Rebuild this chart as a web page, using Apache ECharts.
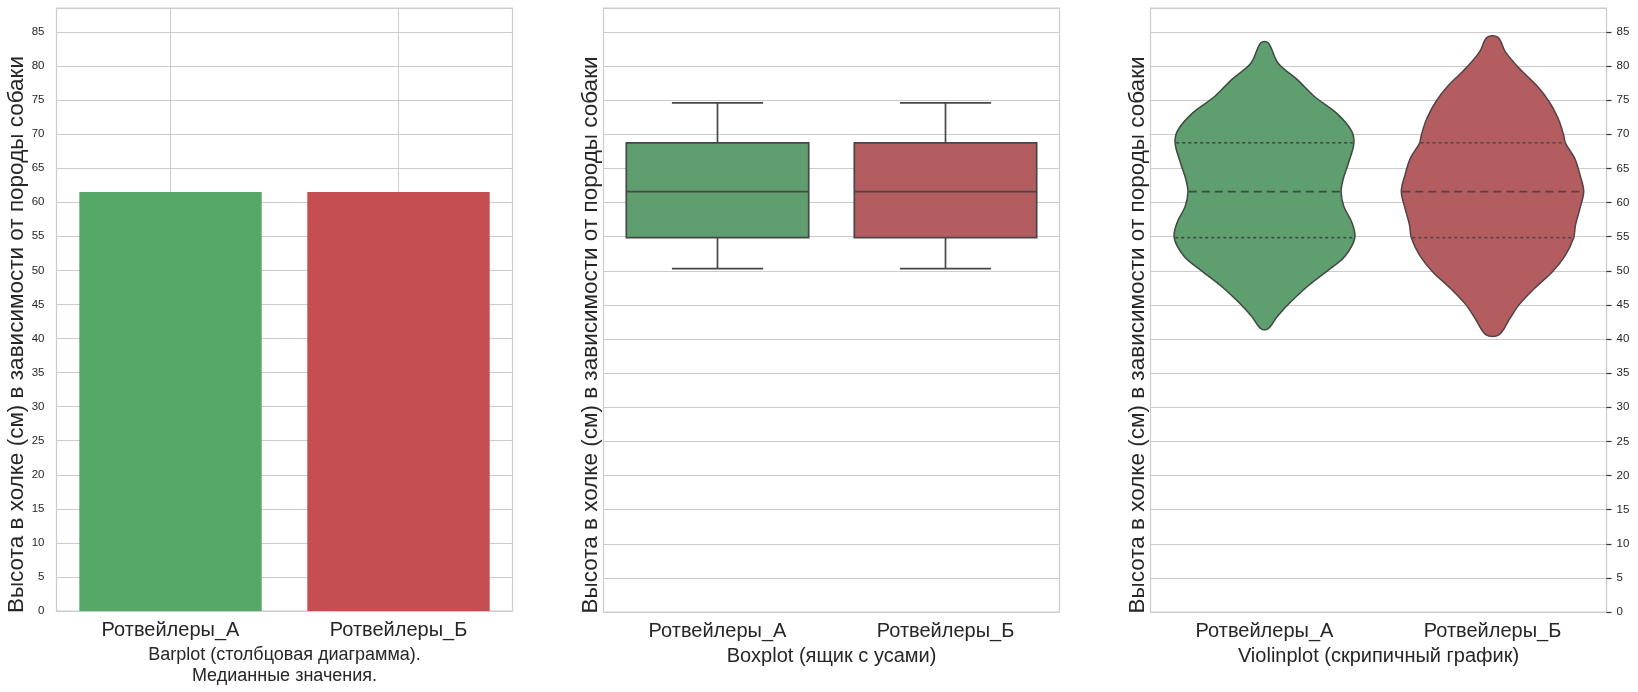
<!DOCTYPE html>
<html><head><meta charset="utf-8">
<script src="https://cdn.jsdelivr.net/npm/echarts@6/dist/echarts.min.js"></script>
<style>html,body{margin:0;padding:0;background:#fff}#c{width:1638px;height:692px}</style>
</head><body><div id="c"></div>
<script>
// ---- data ----
const categories = ['Ротвейлеры_А', 'Ротвейлеры_Б'];
const barMedians = [61.5, 61.5];
// [min whisker, Q1, median, Q3, max whisker]
const boxStatsA = [50.3, 54.85, 61.6, 68.75, 74.6];
const boxStatsB = [50.3, 54.85, 61.6, 68.75, 74.6];
// violin outlines: heights (cm) and relative half-widths (density)
const violinA_y = [83.4, 80.4, 78.0, 75.5, 73.1, 70.6, 68.7, 65.75, 63.3, 61.5, 59.4, 57.0, 54.8, 52.1, 50.1, 47.7, 45.2, 43.3, 41.5];
const violinA_w = [0.04, 0.15, 0.36, 0.55, 0.79, 0.95, 0.98, 0.92, 0.86, 0.84, 0.87, 0.96, 0.99, 0.88, 0.70, 0.47, 0.27, 0.14, 0.04];
const violinB_y = [84.2, 82.1, 79.7, 77.2, 74.8, 72.3, 69.9, 68.7, 66.5, 64.0, 61.6, 59.2, 56.7, 54.85, 52.3, 49.9, 47.4, 45.0, 43.0, 40.6];
const violinB_w = [0.06, 0.14, 0.29, 0.48, 0.62, 0.72, 0.78, 0.80, 0.90, 0.96, 1.0, 0.96, 0.91, 0.89, 0.80, 0.66, 0.46, 0.29, 0.19, 0.07];
const yTicks = [0, 5, 10, 15, 20, 25, 30, 35, 40, 45, 50, 55, 60, 65, 70, 75, 80, 85];

const boxStats = [boxStatsA, boxStatsB];
const violins = [{y: violinA_y, w: violinA_w}, {y: violinB_y, w: violinB_w}];

const barColors = ['#55a868', '#c44e52'];
const mutedColors = ['#5f9e6e', '#b45d60'];
const violinEdge = ['#3e4a41', '#544244'];
const FONT = 'Liberation Sans, Arial, sans-serif';
const TXT = '#262626';
const GRIDC = '#cccccc';
const yTitle = 'Высота в холке (см) в зависимости от породы собаки';

const chart = echarts.init(document.getElementById('c'), null, {renderer: 'canvas'});

function interpW(ys, ws, q) {
  for (let k = 0; k < ys.length - 1; k++) {
    const a = ys[k], b = ys[k + 1];
    if ((q <= a && q >= b)) {
      const t = (a - q) / (a - b);
      return ws[k] + t * (ws[k + 1] - ws[k]);
    }
  }
  return 0;
}

function renderBox(params, api) {
  const ci = api.value(0);
  const band = api.size([1, 0])[0];
  const bw = band * 0.8;
  const cx = api.coord([ci, 0])[0];
  const y = v => api.coord([ci, v])[1];
  const mn = y(api.value(1)), q1 = y(api.value(2)), md = y(api.value(3)), q3 = y(api.value(4)), mx = y(api.value(5));
  const stroke = {stroke: '#474747', lineWidth: 1.7};
  return {
    type: 'group',
    children: [
      {type: 'line', shape: {x1: cx, y1: q3, x2: cx, y2: mx}, style: stroke},
      {type: 'line', shape: {x1: cx, y1: q1, x2: cx, y2: mn}, style: stroke},
      {type: 'line', shape: {x1: cx - bw / 4, y1: mx, x2: cx + bw / 4, y2: mx}, style: stroke},
      {type: 'line', shape: {x1: cx - bw / 4, y1: mn, x2: cx + bw / 4, y2: mn}, style: stroke},
      {type: 'rect', shape: {x: cx - bw / 2, y: q3, width: bw, height: q1 - q3},
        style: {fill: mutedColors[ci], stroke: '#474747', lineWidth: 1.7}},
      {type: 'line', shape: {x1: cx - bw / 2, y1: md, x2: cx + bw / 2, y2: md}, style: stroke}
    ]
  };
}

function renderViolin(params, api) {
  const ci = api.value(0);
  const band = api.size([1, 0])[0];
  const half = band * 0.4;
  const cx = api.coord([ci, 0])[0];
  const v = violins[ci];
  const left = [], right = [];
  for (let k = 0; k < v.y.length; k++) {
    const py = api.coord([ci, v.y[k]])[1];
    left.push([cx - v.w[k] * half, py]);
    right.push([cx + v.w[k] * half, py]);
  }
  const pts = left.concat(right.reverse());
  const children = [{
    type: 'polygon', shape: {points: pts, smooth: 0.35},
    style: {fill: mutedColors[ci], stroke: violinEdge[ci], lineWidth: 1.5}
  }];
  const s = boxStats[ci];
  [[s[1], [3, 3], 1.6], [s[2], [8, 5], 1.9], [s[3], [3, 3], 1.6]].forEach(([q, dash, lw]) => {
    const w = interpW(v.y, v.w, q) * half - 1;
    const py = api.coord([ci, q])[1];
    children.push({type: 'line', shape: {x1: cx - w, y1: py, x2: cx + w, y2: py},
      style: {stroke: violinEdge[ci], lineWidth: lw, lineDash: dash}});
  });
  return {type: 'group', children};
}

const lefts = [56.5, 603.5, 1150.5];
const grids = lefts.map(l => ({left: l, top: 8, width: 456, bottom: 80, show: true,
  borderColor: GRIDC, borderWidth: 1.25, backgroundColor: '#fff'}));

const xNames = ['Barplot (столбцовая диаграмма).\nМедианные значения.', 'Boxplot (ящик с усами)', 'Violinplot (скрипичный график)'];
const xAxes = [0, 1, 2].map(i => ({
  type: 'category', gridIndex: i, data: categories, boundaryGap: true,
  axisLine: {show: false}, axisTick: {show: false}, splitLine: {show: false},
  axisLabel: {fontSize: 20, color: TXT, margin: 9, fontFamily: FONT},
  name: xNames[i], nameLocation: 'middle', nameGap: i === 0 ? 30 : 31,
  nameTextStyle: {fontSize: i === 0 ? 18 : 20, color: TXT, fontFamily: FONT, lineHeight: i === 0 ? 21 : 22}
}));

function yAx(grid, opts) {
  return Object.assign({
    type: 'value', gridIndex: grid, min: 0, max: 88.5, interval: 5,
    axisLine: {show: false}, axisTick: {show: false},
    splitLine: {show: true, lineStyle: {color: GRIDC, width: 1}},
    axisLabel: {show: false},
    name: yTitle, nameLocation: 'middle', nameRotate: 90,
    nameTextStyle: {fontSize: 22.5, color: TXT, fontFamily: FONT, padding: [0, 50, 0, 0]}
  }, opts);
}
const yAxes = [
  yAx(0, {nameGap: 28, axisLabel: {show: true, customValues: yTicks, fontSize: 11.5, color: TXT, margin: 12, fontFamily: FONT}}),
  yAx(1, {nameGap: 1}),
  yAx(2, {nameGap: 1}),
  {type: 'value', gridIndex: 2, min: 0, max: 88.5, interval: 5, position: 'right',
    axisLine: {show: false}, splitLine: {show: false},
    axisTick: {show: true, inside: false, length: 5, customValues: yTicks, lineStyle: {color: '#333', width: 1.2}},
    axisLabel: {show: true, customValues: yTicks, fontSize: 11.5, color: TXT, margin: 10, fontFamily: FONT}}
];

const option = {
  animation: false,
  backgroundColor: '#fff',
  grid: grids,
  xAxis: xAxes,
  yAxis: yAxes,
  series: [
    {
      type: 'bar', xAxisIndex: 0, yAxisIndex: 0, barWidth: '80%',
      data: barMedians.map((v, i) => ({value: v, itemStyle: {color: barColors[i]}})),
      z: 3,
      markLine: {
        silent: true, symbol: ['none', 'none'], z: 1, animation: false,
        label: {show: false},
        lineStyle: {color: GRIDC, width: 1, type: 'solid'},
        data: categories.map(c => ({xAxis: c}))
      }
    },
    {
      type: 'custom', xAxisIndex: 1, yAxisIndex: 1,
      data: boxStats.map((s, i) => [i].concat(s)),
      encode: {x: 0, y: [1, 2, 3, 4, 5]},
      renderItem: renderBox
    },
    {
      type: 'custom', xAxisIndex: 2, yAxisIndex: 2,
      data: categories.map((c, i) => [i, boxStats[i][2]]),
      encode: {x: 0, y: 1},
      renderItem: renderViolin
    }
  ]
};
chart.setOption(option);
</script>
</body></html>
